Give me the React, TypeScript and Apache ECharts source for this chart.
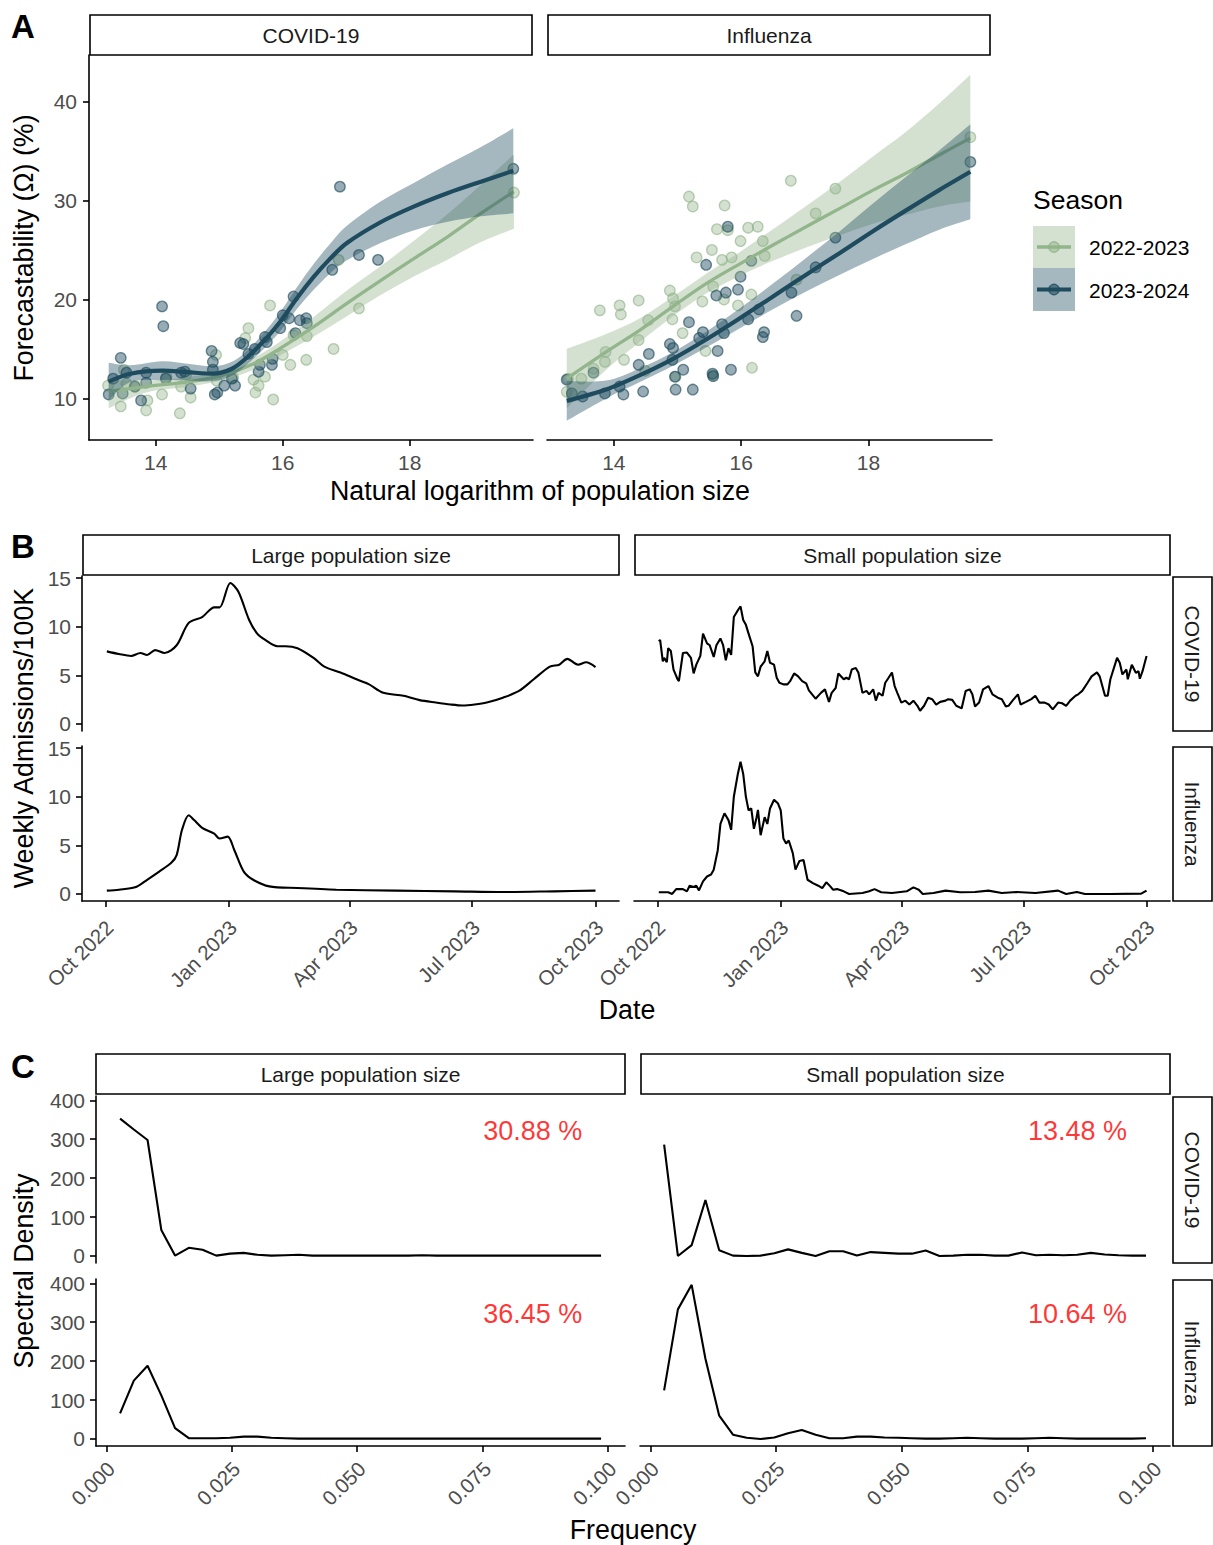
import React, { useEffect, useRef } from 'react';
import * as echarts from 'echarts';

const W = 1213;
const H = 1545;
const FONT = '"Liberation Sans", Arial, Helvetica, sans-serif';
const TICK_GRAY = '#4D4D4D';
const STRIP_TEXT = '#1A1A1A';

// ---------------- Panel A ----------------
const seasons = ['2022-2023', '2023-2024'];
const seasonLine = ['#93B58C', '#1F4B5E'];
const seasonRibbon = ['rgba(147,181,140,0.4)', 'rgba(31,75,94,0.4)'];
const seasonPointFill = ['rgba(147,181,140,0.5)', 'rgba(31,75,94,0.58)'];
const seasonPointStroke = ['rgba(140,176,132,0.75)', 'rgba(31,75,94,0.8)'];
const diseases = ['COVID-19', 'Influenza'];
const aXTicks = [14, 16, 18];
const aYTicks = [10, 20, 30, 40];

const covidPts2223: [number, number][] = [
  [13.25, 11.3], [13.45, 9.2], [13.5, 12.9], [13.54, 11.5], [13.68, 11.2], [13.85, 8.8], [13.87, 9.8],
  [14.1, 10.4], [14.17, 12.2], [14.38, 8.5], [14.4, 11.2], [14.48, 12.4], [14.55, 10.1], [14.95, 14.4],
  [14.96, 11.8], [15.22, 12.1], [15.41, 16.1], [15.46, 17.1], [15.54, 11.9], [15.57, 10.6], [15.62, 11.3],
  [15.72, 12.2], [15.8, 19.4], [15.85, 9.9], [16.0, 14.4], [16.12, 13.4], [16.17, 16.4], [16.37, 13.9],
  [16.38, 16.3], [16.8, 15.0], [16.88, 24.0], [17.2, 19.1], [19.64, 30.8],
];
const covidPts2324: [number, number][] = [
  [13.26, 10.4], [13.33, 12.0], [13.45, 14.1], [13.48, 10.5], [13.54, 12.6], [13.67, 11.2], [13.77, 9.8],
  [13.85, 12.6], [13.85, 11.6], [14.1, 19.3], [14.12, 17.3], [14.16, 12.0], [14.4, 12.6], [14.46, 12.7],
  [14.55, 11.0], [14.88, 14.8], [14.9, 13.7], [14.9, 12.9], [14.93, 10.4], [14.97, 10.6], [15.08, 11.3],
  [15.2, 12.0], [15.25, 11.3], [15.33, 15.6], [15.38, 15.5], [15.46, 14.5], [15.56, 15.0], [15.62, 12.7],
  [15.64, 13.4], [15.72, 16.2], [15.75, 15.7], [15.83, 13.4], [15.84, 14.0], [15.96, 17.1], [16.0, 18.4],
  [16.1, 18.1], [16.17, 20.3], [16.2, 16.6], [16.27, 17.9], [16.37, 18.1], [16.38, 17.6], [16.78, 23.0],
  [16.9, 31.4], [17.2, 24.5], [17.5, 24.0], [19.63, 33.2],
];
const fluPts2223: [number, number][] = [
  [13.26, 10.67], [13.28, 12.0], [13.49, 12.0], [13.68, 13.0], [13.78, 18.9], [13.86, 13.7], [13.87, 14.7],
  [14.09, 19.4], [14.11, 18.5], [14.16, 13.9], [14.39, 19.9], [14.39, 15.9], [14.49, 12.8], [14.54, 17.9],
  [14.88, 20.9], [14.92, 18.0], [14.93, 20.1], [14.96, 19.3], [14.97, 12.2], [15.08, 16.6], [15.18, 30.4],
  [15.24, 29.4], [15.3, 24.25], [15.39, 19.8], [15.44, 14.8], [15.54, 25.0], [15.56, 21.3], [15.56, 12.35],
  [15.62, 27.1], [15.7, 24.0], [15.73, 20.0], [15.74, 29.5], [15.79, 27.0], [15.85, 24.25], [15.95, 19.4],
  [15.99, 25.9], [16.11, 27.25], [16.16, 20.5], [16.17, 13.1], [16.26, 27.35], [16.34, 25.9], [16.37, 24.4],
  [16.78, 32.0], [16.87, 22.0], [17.17, 28.7], [17.48, 31.2], [19.6, 36.4],
];
const fluPts2324: [number, number][] = [
  [13.26, 11.9], [13.34, 10.5], [13.51, 10.2], [13.68, 12.6], [13.86, 10.5], [14.09, 11.2], [14.15, 10.4],
  [14.39, 13.4], [14.46, 10.7], [14.55, 14.5], [14.88, 15.5], [14.92, 13.9], [14.93, 15.1], [14.96, 12.2],
  [14.97, 10.9], [15.09, 12.9], [15.18, 17.7], [15.24, 10.9], [15.34, 16.1], [15.4, 16.7], [15.45, 23.5],
  [15.55, 12.5], [15.56, 12.25], [15.61, 20.4], [15.63, 14.8], [15.7, 17.5], [15.73, 16.6], [15.76, 20.7],
  [15.79, 27.35], [15.84, 12.9], [15.95, 21.0], [15.99, 22.3], [16.11, 18.0], [16.16, 23.9], [16.28, 19.0],
  [16.34, 16.2], [16.36, 16.7], [16.79, 20.7], [16.87, 18.35], [17.17, 23.25], [17.48, 26.25], [19.6, 33.9],
];

const covidFitX2223 = [13.26, 13.85, 14.54, 15.06, 15.54, 15.96, 16.49, 17.01, 17.54, 18.07, 18.6, 19.12, 19.64];
const covidFit2223 = [10.7, 11.2, 11.7, 12.35, 13.5, 15.05, 17.25, 19.6, 21.9, 24.15, 26.35, 28.7, 30.9];
const covidLo2223 = [9.0, 10.6, 11.2, 11.85, 12.9, 14.35, 16.25, 18.3, 20.45, 22.35, 24.05, 25.8, 27.15];
const covidHi2223 = [11.9, 11.8, 12.2, 12.85, 14.1, 15.75, 18.25, 20.9, 23.35, 25.95, 28.65, 31.6, 34.65];

const covidFitX2324 = [13.26, 13.6, 14.1, 14.5, 14.9, 15.2, 15.45, 15.7, 15.96, 16.22, 16.49, 16.75, 17.01, 17.54, 18.07, 18.6, 19.12, 19.63];
const covidFit2324 = [11.7, 12.5, 12.8, 12.65, 12.5, 13.0, 14.2, 15.8, 17.75, 20.1, 22.3, 24.15, 25.7, 27.8, 29.4, 30.75, 31.9, 33.0];
const covidLo2324 = [9.8, 11.65, 11.85, 11.8, 11.75, 12.3, 13.5, 15.0, 16.8, 19.0, 21.0, 22.65, 23.95, 25.7, 27.0, 27.85, 28.4, 28.7];
const covidHi2324 = [13.6, 13.35, 13.75, 13.5, 13.25, 13.7, 14.9, 16.6, 18.7, 21.2, 23.6, 25.65, 27.45, 29.9, 31.8, 33.65, 35.4, 37.3];

const fluFitX = [13.26, 13.88, 14.41, 14.93, 15.45, 15.98, 16.5, 17.02, 17.55, 18.07, 18.59, 19.11, 19.6];
const fluFit2223 = [12.0, 14.7, 16.9, 19.3, 21.6, 23.6, 25.5, 27.35, 29.2, 31.05, 32.75, 34.6, 36.3];
const fluLo2223 = [9.0, 12.9, 15.7, 18.3, 20.6, 22.4, 23.9, 25.25, 26.5, 27.65, 28.55, 29.4, 29.9];
const fluHi2223 = [15.0, 16.5, 18.1, 20.3, 22.6, 24.8, 27.1, 29.45, 31.9, 34.45, 36.95, 39.8, 42.7];
const fluFit2324 = [9.75, 10.9, 12.35, 14.0, 15.95, 18.1, 20.3, 22.5, 24.7, 26.9, 29.0, 31.05, 32.9];
const fluLo2324 = [7.75, 10.0, 11.65, 13.3, 15.15, 17.1, 19.0, 20.8, 22.5, 24.1, 25.6, 27.05, 28.1];
const fluHi2324 = [11.75, 11.8, 13.05, 14.7, 16.75, 19.1, 21.6, 24.2, 26.9, 29.7, 32.4, 35.05, 37.7];

// ---------------- Panel B ----------------
const popSizes = ['Large population size', 'Small population size'];
const dateTickDays = [0, 92, 182, 273, 365]; // days after 1 Oct 2022
const dateTickLabels = ['Oct 2022', 'Jan 2023', 'Apr 2023', 'Jul 2023', 'Oct 2023'];
const bYTicks = [0, 5, 10, 15];

const largeCovid: [number, number][] = [
  [1, 7.47], [10, 7.2], [19, 7.0], [26, 7.3], [31, 7.1], [37, 7.6], [44, 7.3], [53, 8.1], [62, 10.4],
  [72, 11.0], [81, 12.0], [85, 12.0], [93, 14.5], [99, 13.6], [107, 10.7], [113, 9.3], [119, 8.65],
  [128, 8.0], [134, 8.0], [143, 7.8], [155, 6.8], [163, 5.9], [175, 5.3], [187, 4.6], [196, 4.1],
  [207, 3.2], [222, 2.9], [234, 2.45], [246, 2.2], [257, 2.0], [266, 1.9], [275, 2.0], [284, 2.2],
  [296, 2.7], [308, 3.4], [319, 4.6], [331, 5.9], [338, 6.1], [344, 6.7], [352, 6.1], [358, 6.35], [365, 5.85],
];
const largeFlu: [number, number][] = [
  [1, 0.34], [10, 0.44], [22, 0.68], [31, 1.46], [40, 2.3], [49, 3.2], [53, 4.0], [57, 6.6], [62, 8.1],
  [66, 7.6], [72, 6.8], [81, 6.2], [85, 5.7], [91, 5.9], [96, 4.5], [103, 2.3], [110, 1.46], [122, 0.78],
  [143, 0.61], [172, 0.44], [216, 0.34], [260, 0.27], [296, 0.2], [334, 0.27], [365, 0.34],
];
const smallCovid: [number, number][] = [
  [1, 8.5], [2, 8.65], [4, 6.45], [5, 6.8], [7, 6.35], [8, 7.8], [10, 7.5], [12, 5.6], [15, 4.6], [16, 4.4],
  [19, 7.3], [22, 7.35], [25, 6.8], [27, 5.2], [29, 6.1], [32, 7.0], [34, 9.3], [37, 8.3], [39, 8.1], [42, 6.9],
  [44, 8.1], [47, 8.8], [49, 8.1], [51, 6.55], [53, 7.8], [55, 7.1], [57, 11.0], [60, 11.7], [62, 12.1],
  [64, 10.7], [66, 10.2], [68, 9.3], [71, 8.0], [73, 5.3], [75, 4.9], [77, 5.9], [80, 6.45], [82, 7.5],
  [84, 6.3], [87, 6.1], [89, 4.75], [91, 4.24], [94, 4.07], [97, 4.07], [99, 4.4], [102, 5.2], [105, 4.9],
  [108, 4.4], [111, 4.17], [113, 3.46], [118, 2.6], [122, 3.2], [125, 3.56], [128, 2.27], [130, 3.2],
  [133, 3.7], [135, 5.2], [139, 4.6], [141, 4.75], [143, 4.6], [145, 5.6], [148, 5.77], [150, 5.26],
  [153, 3.2], [156, 3.4], [158, 3.05], [161, 3.56], [163, 2.4], [165, 3.2], [168, 2.9], [170, 4.24],
  [172, 4.65], [175, 5.3], [177, 3.9], [179, 3.2], [182, 2.2], [185, 2.4], [188, 2.0], [191, 2.4],
  [194, 1.87], [196, 1.36], [199, 1.87], [202, 2.7], [205, 2.55], [208, 2.0], [211, 2.27], [215, 2.4],
  [217, 2.55], [220, 2.48], [223, 1.87], [227, 1.6], [230, 3.4], [233, 3.56], [235, 3.05], [237, 1.8],
  [240, 2.2], [243, 3.56], [247, 3.9], [250, 3.05], [254, 2.7], [257, 2.55], [260, 1.8], [262, 1.87],
  [265, 2.4], [269, 3.05], [271, 2.0], [275, 2.27], [279, 2.55], [282, 2.9], [285, 2.2], [289, 2.2],
  [292, 2.0], [295, 1.5], [299, 2.2], [302, 2.13], [305, 1.87], [308, 2.4], [312, 2.9], [314, 3.05],
  [317, 3.4], [321, 4.24], [324, 4.9], [328, 5.3], [330, 4.9], [334, 2.9], [336, 2.9], [338, 4.6],
  [343, 6.8], [345, 6.3], [347, 5.1], [350, 5.6], [351, 4.6], [354, 6.1], [357, 5.26], [359, 5.43],
  [360, 4.65], [362, 5.43], [365, 7.0],
];
const smallFlu: [number, number][] = [
  [1, 0.17], [8, 0.17], [11, 0], [14, 0.5], [19, 0.5], [22, 0.27], [24, 0.85], [27, 0.71], [29, 0.85],
  [31, 0.37], [34, 1.3], [37, 1.8], [40, 2.0], [42, 2.5], [45, 4.5], [47, 7.2], [50, 8.3], [53, 7.6],
  [55, 6.6], [57, 10.0], [60, 12.35], [62, 13.6], [64, 12.35], [66, 10.0], [68, 8.6], [70, 8.8], [72, 6.7],
  [74, 7.9], [75, 8.65], [77, 6.05], [80, 7.9], [82, 7.2], [84, 8.8], [87, 9.7], [90, 9.3], [92, 8.6],
  [94, 5.7], [96, 5.2], [98, 5.5], [101, 4.2], [103, 2.5], [106, 3.4], [109, 3.5], [112, 1.46], [116, 1.12],
  [120, 0.85], [123, 0.6], [126, 1.2], [129, 0.78], [131, 0.44], [134, 0.5], [139, 0.27], [143, 0],
  [153, 0.1], [158, 0.27], [162, 0.5], [167, 0.17], [175, 0.1], [186, 0.27], [191, 0.68], [195, 0.44],
  [198, 0], [206, 0.1], [215, 0.34], [226, 0.17], [237, 0.2], [247, 0.34], [257, 0.1], [268, 0.2],
  [282, 0.1], [299, 0.34], [305, 0], [313, 0.2], [319, 0], [338, 0], [361, 0.03], [365, 0.34],
];

// ---------------- Panel C ----------------
const cXTicks = [0, 0.025, 0.05, 0.075, 0.1];
const cYTicks = [0, 100, 200, 300, 400];
const frequencies = [
  0.00274, 0.00548, 0.00822, 0.01096, 0.0137, 0.01644, 0.01918, 0.02192, 0.02466, 0.0274, 0.03014, 0.03288,
  0.03562, 0.03836, 0.0411, 0.04384, 0.04658, 0.04932, 0.05205, 0.05479, 0.05753, 0.06027, 0.06301, 0.06575,
  0.06849, 0.07123, 0.07397, 0.07671, 0.07945, 0.08219, 0.08493, 0.08767, 0.09041, 0.09315, 0.09589, 0.09863,
];
const specLargeCovid = [353, 325, 298, 67, 1, 21, 16, 1, 6, 8, 3, 1, 2, 3, 1, 1, 1, 1, 1, 1, 1, 1, 2, 1, 1, 1, 1, 1, 1, 1, 1, 1, 1, 1, 1, 1];
const specSmallCovid = [286, 0, 28, 144, 15, 1, 0, 1, 7, 17, 8, 0, 12, 12, 1, 10, 8, 6, 6, 14, 0, 1, 3, 3, 1, 1, 9, 2, 3, 2, 3, 8, 4, 2, 1, 1];
const specLargeFlu = [66, 150, 188, 112, 28, 2, 2, 2, 3, 6, 6, 3, 2, 1, 1, 1, 1, 1, 1, 1, 1, 1, 1, 1, 1, 1, 1, 1, 1, 1, 1, 1, 1, 1, 1, 1];
const specSmallFlu = [125, 333, 396, 206, 60, 11, 3, 0, 4, 15, 23, 11, 2, 2, 6, 6, 4, 3, 2, 1, 1, 2, 3, 2, 1, 1, 1, 2, 3, 2, 1, 1, 1, 1, 1, 2];
const annotLabels = ['30.88 %', '13.48 %', '36.45 %', '10.64 %'];
const annotX = [0.085, 0.085, 0.085, 0.085];
const annotY = [320, 320, 320, 320];

// ---------------- layout ----------------
type G = { left: number; top: number; width: number; height: number };
const grids: G[] = [
  { left: 89, top: 55, width: 444, height: 385 },
  { left: 547, top: 55, width: 445, height: 385 },
  { left: 82, top: 576, width: 537, height: 155 },
  { left: 634, top: 576, width: 536, height: 155 },
  { left: 82, top: 746, width: 537, height: 155 },
  { left: 634, top: 746, width: 536, height: 155 },
  { left: 96, top: 1096, width: 529, height: 167 },
  { left: 640, top: 1096, width: 530, height: 167 },
  { left: 96, top: 1279, width: 529, height: 167 },
  { left: 640, top: 1279, width: 530, height: 167 },
];

function axis(gridIndex: number, min: number, max: number, ticks: number[], show: boolean, extra: any = {}) {
  return {
    type: 'value',
    gridIndex,
    min,
    max,
    show,
    axisLine: { show, onZero: false, lineStyle: { color: '#000', width: 1.6 } },
    axisTick: { show, length: 6, customValues: ticks, lineStyle: { color: '#000', width: 1.6 } },
    axisLabel: {
      show,
      customValues: ticks,
      color: TICK_GRAY,
      fontSize: 21,
      fontFamily: FONT,
      margin: 10,
      ...extra,
    },
    splitLine: { show: false },
  };
}

function dateFmt(v: number) {
  const i = dateTickDays.findIndex((d) => Math.abs(d - v) < 0.5);
  return i >= 0 ? dateTickLabels[i] : '';
}

// Catmull-Rom style cubic segments through pixel points (rendering only)
function smoothSegs(p: number[][]): string {
  let d = '';
  for (let i = 0; i < p.length - 1; i++) {
    const p0 = p[i - 1] || p[i];
    const p1 = p[i];
    const p2 = p[i + 1];
    const p3 = p[i + 2] || p[i + 1];
    const c1x = p1[0] + (p2[0] - p0[0]) / 6;
    const c1y = p1[1] + (p2[1] - p0[1]) / 6;
    const c2x = p2[0] - (p3[0] - p1[0]) / 6;
    const c2y = p2[1] - (p3[1] - p1[1]) / 6;
    d += ` C${c1x.toFixed(2)},${c1y.toFixed(2)} ${c2x.toFixed(2)},${c2y.toFixed(2)} ${p2[0].toFixed(2)},${p2[1].toFixed(2)}`;
  }
  return d;
}

function ribbon(idx: number, xs: number[], lo: number[], hi: number[], color: string, z: number) {
  return {
    type: 'custom',
    xAxisIndex: idx,
    yAxisIndex: idx,
    z,
    silent: true,
    data: xs.map((x, i) => [x, lo[i], hi[i]]),
    encode: { x: 0, y: [1, 2] },
    renderItem: (params: any, api: any) => {
      if (params.dataIndex !== 0) return { type: 'group', children: [] };
      const top = xs.map((x, i) => api.coord([x, hi[i]]));
      const bottom = xs.map((x, i) => api.coord([x, lo[i]])).reverse();
      const d =
        `M${top[0][0].toFixed(2)},${top[0][1].toFixed(2)}` +
        smoothSegs(top) +
        ` L${bottom[0][0].toFixed(2)},${bottom[0][1].toFixed(2)}` +
        smoothSegs(bottom) +
        ' Z';
      return {
        type: 'path',
        shape: { pathData: d },
        style: { fill: color },
      };
    },
  };
}

function fitLine(idx: number, xs: number[], ys: number[], color: string, width: number, z: number) {
  return {
    type: 'line',
    xAxisIndex: idx,
    yAxisIndex: idx,
    z,
    silent: true,
    symbol: 'none',
    smooth: 0.3,
    data: xs.map((x, i) => [x, ys[i]]),
    lineStyle: { color, width },
  };
}

function pts(idx: number, data: [number, number][], s: number, z: number) {
  return {
    type: 'scatter',
    xAxisIndex: idx,
    yAxisIndex: idx,
    z,
    silent: true,
    symbolSize: 10.5,
    data,
    itemStyle: { color: seasonPointFill[s], borderColor: seasonPointStroke[s], borderWidth: 1.3 },
  };
}

function tsLine(idx: number, data: [number, number][], smooth: number | boolean) {
  return {
    type: 'line',
    xAxisIndex: idx,
    yAxisIndex: idx,
    silent: true,
    symbol: 'none',
    smooth,
    data,
    lineStyle: { color: '#000', width: 2.1 },
  };
}

function specLine(idx: number, ys: number[]) {
  return {
    type: 'line',
    xAxisIndex: idx,
    yAxisIndex: idx,
    silent: true,
    symbol: 'none',
    data: frequencies.map((f, i) => [f, ys[i]]),
    lineStyle: { color: '#000', width: 2.1 },
  };
}

function annot(idx: number, k: number) {
  return {
    type: 'scatter',
    xAxisIndex: idx,
    yAxisIndex: idx,
    silent: true,
    symbolSize: 2,
    data: [[annotX[k], annotY[k]]],
    itemStyle: { color: 'rgba(0,0,0,0)' },
    label: {
      show: true,
      position: 'inside',
      formatter: annotLabels[k],
      color: '#FF0000',
      fontSize: 27,
      fontFamily: FONT,
    },
  };
}

function txt(x: number, y: number, text: string, size: number, opts: any = {}) {
  return {
    type: 'text',
    x,
    y,
    rotation: opts.rotation || 0,
    silent: true,
    style: {
      text,
      fontSize: size,
      fontFamily: FONT,
      fontWeight: opts.bold ? 'bold' : 'normal',
      fill: opts.fill || '#000',
      align: opts.align || 'center',
      verticalAlign: 'middle',
      textAlign: opts.align || 'center',
      textVerticalAlign: 'middle',
    },
  };
}

function strip(x: number, y: number, w: number, h: number, text: string, vertical = false) {
  return [
    {
      type: 'rect',
      silent: true,
      shape: { x, y, width: w, height: h },
      style: { fill: '#fff', stroke: '#000', lineWidth: 1.6 },
    },
    txt(x + w / 2, y + h / 2, text, 21, { fill: STRIP_TEXT, rotation: vertical ? -Math.PI / 2 : 0 }),
  ];
}

function buildOption() {
  const xAxes: any[] = [];
  const yAxes: any[] = [];
  // A
  xAxes.push(axis(0, 12.95, 19.94, aXTicks, true, { margin: 12 }));
  yAxes.push(axis(0, 5.8, 44.7, aYTicks, true, { margin: 12 }));
  xAxes.push(axis(1, 12.95, 19.94, aXTicks, true, { margin: 12 }));
  yAxes.push(axis(1, 5.8, 44.7, aYTicks, false));
  // B
  const bx = [-17.5, 382.5];
  const by = [-0.725, 15.225];
  const dateLbl = {
    formatter: dateFmt,
    rotate: 45,
    fontSize: 20.5,
    margin: 12,
    align: 'right',
    verticalAlign: 'top',
    padding: [0, 5, 0, 0],
  };
  xAxes.push(axis(2, bx[0], bx[1], dateTickDays, false));
  yAxes.push(axis(2, by[0], by[1], bYTicks, true, { margin: 11 }));
  xAxes.push(axis(3, bx[0], bx[1], dateTickDays, false));
  yAxes.push(axis(3, by[0], by[1], bYTicks, false));
  xAxes.push(axis(4, bx[0], bx[1], dateTickDays, true, dateLbl));
  yAxes.push(axis(4, by[0], by[1], bYTicks, true, { margin: 11 }));
  xAxes.push(axis(5, bx[0], bx[1], dateTickDays, true, dateLbl));
  yAxes.push(axis(5, by[0], by[1], bYTicks, false));
  // C
  const cx = [-0.00206, 0.1034];
  const cy = [-18, 411];
  const freqLbl = {
    formatter: (v: number) => v.toFixed(3),
    rotate: 45,
    fontSize: 20.5,
    margin: 9,
    align: 'right',
    verticalAlign: 'top',
    padding: [0, 4, 0, 0],
  };
  xAxes.push(axis(6, cx[0], cx[1], cXTicks, false));
  yAxes.push(axis(6, cy[0], cy[1], cYTicks, true, { margin: 11 }));
  xAxes.push(axis(7, cx[0], cx[1], cXTicks, false));
  yAxes.push(axis(7, cy[0], cy[1], cYTicks, false));
  xAxes.push(axis(8, cx[0], cx[1], cXTicks, true, freqLbl));
  yAxes.push(axis(8, cy[0], cy[1], cYTicks, true, { margin: 11 }));
  xAxes.push(axis(9, cx[0], cx[1], cXTicks, true, freqLbl));
  yAxes.push(axis(9, cy[0], cy[1], cYTicks, false));

  const series: any[] = [
    // A: COVID
    pts(0, covidPts2223, 0, 2),
    pts(0, covidPts2324, 1, 2),
    ribbon(0, covidFitX2223, covidLo2223, covidHi2223, seasonRibbon[0], 3),
    fitLine(0, covidFitX2223, covidFit2223, seasonLine[0], 3.3, 4),
    ribbon(0, covidFitX2324, covidLo2324, covidHi2324, seasonRibbon[1], 5),
    fitLine(0, covidFitX2324, covidFit2324, seasonLine[1], 4.2, 6),
    // A: Influenza
    pts(1, fluPts2223, 0, 2),
    pts(1, fluPts2324, 1, 2),
    ribbon(1, fluFitX, fluLo2223, fluHi2223, seasonRibbon[0], 3),
    fitLine(1, fluFitX, fluFit2223, seasonLine[0], 3.3, 4),
    ribbon(1, fluFitX, fluLo2324, fluHi2324, seasonRibbon[1], 5),
    fitLine(1, fluFitX, fluFit2324, seasonLine[1], 4.2, 6),
    // B
    tsLine(2, largeCovid, 0.3),
    tsLine(3, smallCovid, false),
    tsLine(4, largeFlu, 0.3),
    tsLine(5, smallFlu, false),
    // C
    specLine(6, specLargeCovid),
    specLine(7, specSmallCovid),
    specLine(8, specLargeFlu),
    specLine(9, specSmallFlu),
    annot(6, 0),
    annot(7, 1),
    annot(8, 2),
    annot(9, 3),
  ];

  const graphics: any[] = [
    // panel letters
    txt(11, 26, 'A', 33, { bold: true, align: 'left' }),
    txt(11, 546, 'B', 33, { bold: true, align: 'left' }),
    txt(11, 1066, 'C', 33, { bold: true, align: 'left' }),
    // A strips
    ...strip(90, 15, 442, 40, diseases[0]),
    ...strip(548, 15, 442, 40, diseases[1]),
    // A titles
    txt(24, 248, 'Forecastability (Ω) (%)', 26.8, { rotation: Math.PI / 2 }),
    txt(540, 491, 'Natural logarithm of population size', 26.8),
    // legend
    txt(1033, 200, 'Season', 26.5, { align: 'left' }),
    {
      type: 'rect', silent: true,
      shape: { x: 1033, y: 226, width: 42, height: 42 },
      style: { fill: seasonRibbon[0] },
    },
    {
      type: 'rect', silent: true,
      shape: { x: 1033, y: 268, width: 42, height: 43 },
      style: { fill: seasonRibbon[1] },
    },
    {
      type: 'line', silent: true,
      shape: { x1: 1037, y1: 247, x2: 1071, y2: 247 },
      style: { stroke: seasonLine[0], lineWidth: 3.3 },
    },
    {
      type: 'line', silent: true,
      shape: { x1: 1037, y1: 289.5, x2: 1071, y2: 289.5 },
      style: { stroke: seasonLine[1], lineWidth: 4.2 },
    },
    {
      type: 'circle', silent: true,
      shape: { cx: 1054, cy: 247, r: 5.2 },
      style: { fill: seasonPointFill[0], stroke: seasonPointStroke[0], lineWidth: 1.3 },
    },
    {
      type: 'circle', silent: true,
      shape: { cx: 1054, cy: 289.5, r: 5.2 },
      style: { fill: seasonPointFill[1], stroke: seasonPointStroke[1], lineWidth: 1.3 },
    },
    txt(1089, 247, seasons[0], 21, { align: 'left' }),
    txt(1089, 290, seasons[1], 21, { align: 'left' }),
    // B strips
    ...strip(83, 535, 536, 40, popSizes[0]),
    ...strip(635, 535, 535, 40, popSizes[1]),
    ...strip(1173, 577, 39, 154, diseases[0], true),
    ...strip(1173, 747, 39, 154, diseases[1], true),
    txt(24, 738, 'Weekly Admissions/100K', 26.8, { rotation: Math.PI / 2 }),
    txt(627, 1010, 'Date', 26.8),
    // C strips
    ...strip(96, 1054, 529, 40, popSizes[0]),
    ...strip(641, 1054, 529, 40, popSizes[1]),
    ...strip(1173, 1097, 39, 166, diseases[0], true),
    ...strip(1173, 1280, 39, 166, diseases[1], true),
    txt(24, 1271, 'Spectral Density', 26.8, { rotation: Math.PI / 2 }),
    txt(633, 1530, 'Frequency', 26.8),
  ];

  return {
    animation: false,
    backgroundColor: '#fff',
    textStyle: { fontFamily: FONT },
    grid: grids.map((g) => ({ ...g, containLabel: false, show: false })),
    xAxis: xAxes,
    yAxis: yAxes,
    series,
    graphic: { elements: graphics },
  };
}

export default function App() {
  const ref = useRef<HTMLDivElement>(null);
  useEffect(() => {
    if (!ref.current) return;
    const chart = echarts.init(ref.current, undefined, { renderer: 'svg', width: W, height: H });
    chart.setOption(buildOption());
    return () => {
      chart.dispose();
    };
  }, []);
  return (
    <div
      ref={ref}
      style={{ position: 'absolute', left: 0, top: 0, width: W, height: H, background: '#fff' }}
    />
  );
}
